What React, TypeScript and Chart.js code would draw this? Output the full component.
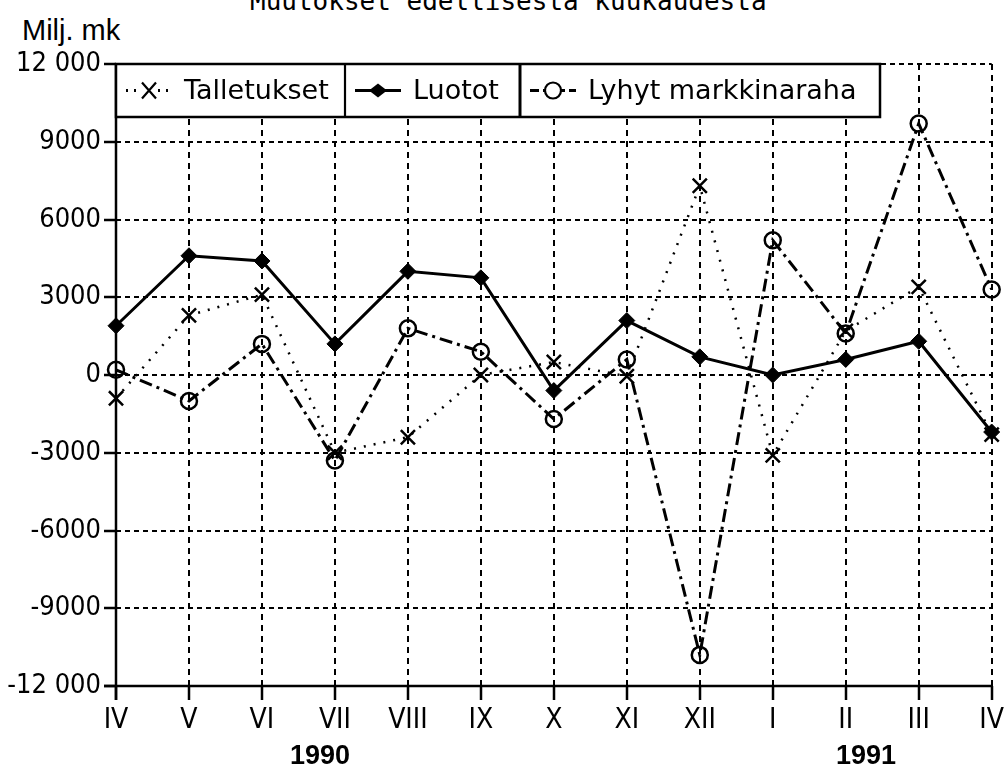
import React, { useEffect, useRef } from "react";
import { Chart, registerables } from "chart.js";

Chart.register(...registerables);

const months = ["IV", "V", "VI", "VII", "VIII", "IX", "X", "XI", "XII", "I", "II", "III", "IV"];
const talletukset = [-900, 2300, 3100, -3000, -2400, 0, 500, -50, 7300, -3100, 1700, 3400, -2300];
const luotot = [1900, 4600, 4400, 1200, 4000, 3750, -600, 2100, 700, 0, 600, 1300, -2200];
const lyhytMarkkinaraha = [200, -1000, 1200, -3300, 1800, 900, -1700, 600, -10800, 5200, 1600, 9700, 3300];
const yTickValues = [12000, 9000, 6000, 3000, 0, -3000, -6000, -9000, -12000];
const yTickLabels = ["12 000", "9000", "6000", "3000", "0", "-3000", "-6000", "-9000", "-12 000"];
const legendLabels = ["Talletukset", "Luotot", "Lyhyt markkinaraha"];
const titleText = "Muutokset edellisestä kuukaudesta";
const unitText = "Milj. mk";
const yearLabels = ["1990", "1991"];

const TICK_FONT = "'Liberation Sans Narrow', 'DejaVu Sans Condensed', 'Liberation Sans', sans-serif";
const LEGEND_FONT = "'DejaVu Sans', 'Noto Sans', sans-serif";

const legendPlugin = {
  id: "customLegend",
  afterDraw(chart: any) {
    const ctx = chart.ctx;
    const area = chart.chartArea;
    const x0 = area.left;
    const y0 = area.top;
    const h = 53;
    const widths = [229, 175, 360];
    const total = widths.reduce((a, b) => a + b, 0);
    ctx.save();
    ctx.fillStyle = "#fff";
    ctx.fillRect(x0, y0, total, h);
    ctx.strokeStyle = "#000";
    ctx.lineWidth = 2.5;
    ctx.setLineDash([]);
    ctx.strokeRect(x0, y0, total, h);
    let x = x0;
    for (let i = 0; i < widths.length; i++) {
      if (i > 0) {
        ctx.beginPath();
        ctx.moveTo(x, y0);
        ctx.lineTo(x, y0 + h);
        ctx.stroke();
      }
      const cy = y0 + h / 2;
      const sx = x + 10;
      const ex = x + 56;
      const mx = (sx + ex) / 2;
      ctx.lineWidth = 3;
      if (i === 0) ctx.setLineDash([2, 6]);
      else if (i === 1) ctx.setLineDash([]);
      else ctx.setLineDash([9, 4]);
      ctx.beginPath();
      ctx.moveTo(sx, cy);
      ctx.lineTo(ex, cy);
      ctx.stroke();
      ctx.setLineDash([]);
      if (i === 0) {
        ctx.fillStyle = "#fff";
        ctx.fillRect(mx - 9, cy - 10, 18, 20);
        ctx.lineWidth = 2.2;
        ctx.beginPath();
        ctx.moveTo(mx - 7, cy - 8);
        ctx.lineTo(mx + 7, cy + 8);
        ctx.moveTo(mx + 7, cy - 8);
        ctx.lineTo(mx - 7, cy + 8);
        ctx.stroke();
      } else if (i === 1) {
        ctx.fillStyle = "#000";
        ctx.beginPath();
        ctx.moveTo(mx, cy - 7);
        ctx.lineTo(mx + 9, cy);
        ctx.lineTo(mx, cy + 7);
        ctx.lineTo(mx - 9, cy);
        ctx.closePath();
        ctx.fill();
      } else {
        ctx.fillStyle = "#fff";
        ctx.beginPath();
        ctx.arc(mx, cy, 8, 0, Math.PI * 2);
        ctx.fill();
        ctx.lineWidth = 2.2;
        ctx.stroke();
      }
      ctx.fillStyle = "#000";
      ctx.font = "27px " + LEGEND_FONT;
      ctx.textBaseline = "middle";
      ctx.textAlign = "left";
      ctx.fillText(legendLabels[i], x + 68, cy + 1);
      x += widths[i];
    }
    ctx.restore();
  },
};

const axisLinesPlugin = {
  id: "axisLines",
  afterDatasetsDraw(chart: any) {
    const ctx = chart.ctx;
    const a = chart.chartArea;
    ctx.save();
    ctx.strokeStyle = "#000";
    ctx.setLineDash([]);
    ctx.lineWidth = 2.5;
    ctx.beginPath();
    ctx.moveTo(a.left, a.top);
    ctx.lineTo(a.left, a.bottom + 14);
    ctx.moveTo(a.left - 12, a.bottom);
    ctx.lineTo(a.right, a.bottom);
    ctx.stroke();
    ctx.restore();
  },
};

export default function App() {
  const canvasRef = useRef<HTMLCanvasElement | null>(null);

  useEffect(() => {
    if (!canvasRef.current) return;
    const chart = new Chart(canvasRef.current, {
      type: "line",
      data: {
        labels: months,
        datasets: [
          {
            label: legendLabels[2],
            data: lyhytMarkkinaraha,
            borderColor: "#000",
            borderWidth: 3,
            borderDash: [13, 5, 3, 5],
            pointStyle: "circle",
            pointRadius: 8,
            pointBorderWidth: 2.5,
            pointBackgroundColor: "rgba(255,255,255,0)",
            pointBorderColor: "#000",
            tension: 0,
          },
          {
            label: legendLabels[0],
            data: talletukset,
            borderColor: "#000",
            borderWidth: 2.5,
            borderDash: [2, 8],
            pointStyle: "crossRot",
            pointRadius: 10,
            pointBorderWidth: 2.5,
            pointBorderColor: "#000",
            tension: 0,
          },
          {
            label: legendLabels[1],
            data: luotot,
            borderColor: "#000",
            borderWidth: 3,
            pointStyle: "rectRot",
            pointRadius: 8,
            pointBackgroundColor: "#000",
            pointBorderColor: "#000",
            pointBorderWidth: 1,
            tension: 0,
          },
        ],
      },
      options: {
        animation: false,
        responsive: false,
        maintainAspectRatio: false,
        events: [],
        layout: { padding: { left: 0, right: 14, top: 64, bottom: 0 } },
        plugins: { legend: { display: false }, tooltip: { enabled: false }, title: { display: false } },
        scales: {
          x: {
            type: "category",
            offset: false,
            border: { display: false, dash: [6, 5] },
            grid: {
              color: "#000",
              lineWidth: 2,
              drawTicks: true,
              tickLength: 14,
              tickColor: "#000",
              tickWidth: 2.5,
              tickBorderDash: [],
            } as any,
            ticks: {
              color: "#000",
              font: { family: TICK_FONT, size: 28 },
              padding: 4,
              maxRotation: 0,
              autoSkip: false,
            },
            afterFit: (s: any) => {
              s.height = 81;
            },
          },
          y: {
            min: -12000,
            max: 12000,
            border: { display: false, dash: [5, 4] },
            afterBuildTicks: (s: any) => {
              s.ticks = yTickValues.map((v) => ({ value: v }));
            },
            afterFit: (s: any) => {
              s.width = 116;
            },
            grid: {
              color: "#000",
              lineWidth: 2,
              drawTicks: true,
              tickLength: 12,
              tickColor: "#000",
              tickWidth: 2.5,
              tickBorderDash: [],
            } as any,
            ticks: {
              color: "#000",
              font: { family: TICK_FONT, size: 27 },
              padding: 3,
              callback: (v: any) => {
                const i = yTickValues.indexOf(Number(v));
                return i >= 0 ? yTickLabels[i] : "";
              },
            },
          },
        },
      },
      plugins: [axisLinesPlugin, legendPlugin],
    });
    return () => chart.destroy();
  }, []);

  const yearStyle: React.CSSProperties = {
    position: "absolute",
    top: 740,
    width: 100,
    textAlign: "center",
    fontFamily: "'Liberation Sans', sans-serif",
    fontWeight: "bold",
    fontSize: 27,
    lineHeight: "30px",
    color: "#000",
  };

  return (
    <div style={{ position: "absolute", left: 0, top: 0, width: 1008, height: 767, background: "#fff", overflow: "hidden" }}>
      <div
        style={{
          position: "absolute",
          left: 250,
          top: -14,
          width: 520,
          fontFamily: "'DejaVu Sans Mono', monospace",
          fontSize: 26,
          lineHeight: "30px",
          whiteSpace: "nowrap",
          color: "#000",
        }}
      >
        {titleText}
      </div>
      <div
        style={{
          position: "absolute",
          left: 22,
          top: 14,
          fontFamily: "'Liberation Sans', sans-serif",
          fontSize: 29,
          lineHeight: "32px",
          color: "#000",
        }}
      >
        {unitText}
      </div>
      <canvas ref={canvasRef} width={1008} height={767} style={{ position: "absolute", left: 0, top: 0 }} />
      <div style={{ ...yearStyle, left: 270 }}>{yearLabels[0]}</div>
      <div style={{ ...yearStyle, left: 816 }}>{yearLabels[1]}</div>
    </div>
  );
}
